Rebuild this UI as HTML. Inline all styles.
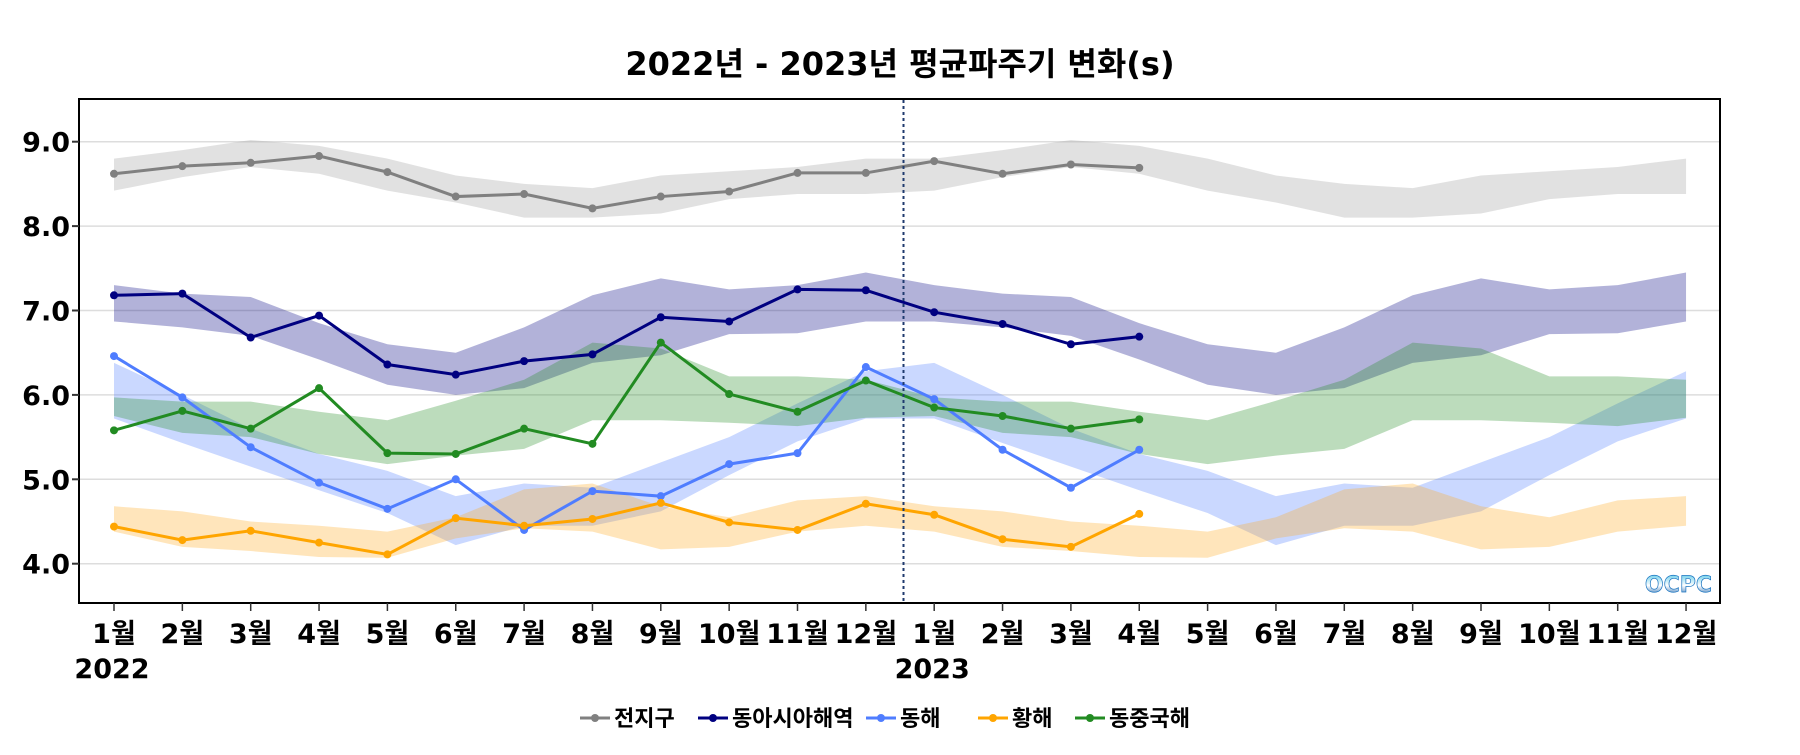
<!DOCTYPE html>
<html><head><meta charset="utf-8">
<style>
body{margin:0;background:#fff;}
svg text{font-family:"DejaVu Sans","Noto Sans CJK KR",sans-serif;}
</style></head>
<body>
<svg id="chart" width="1800" height="750" xmlns="http://www.w3.org/2000/svg">
<text x="900" y="75" text-anchor="middle" font-size="32" font-weight="bold">2022년 - 2023년 평균파주기 변화(s)</text>
<g id="grid"></g>
<g id="bands"></g>
<g id="lines"></g>
<line x1="903.5" y1="100" x2="903.5" y2="603" stroke="#1f3a6e" stroke-width="2" stroke-dasharray="3,3"/>
<rect x="79" y="99" width="1641" height="504" fill="none" stroke="#000" stroke-width="2"/>
<g id="axes"></g>
<g>
<defs><linearGradient id="lg" x1="0" y1="0" x2="0" y2="1"><stop offset="0" stop-color="#5bc8e8"/><stop offset="0.5" stop-color="#ffffff"/><stop offset="1" stop-color="#0a5aa8"/></linearGradient></defs>
<text x="1712" y="592" text-anchor="end" font-size="22" font-weight="bold" fill="url(#lg)" stroke="#1a74c0" stroke-width="0.7">OCPC</text>
</g>
<g id="legend"></g>
</svg>
<script>
const months=["1월","2월","3월","4월","5월","6월","7월","8월","9월","10월","11월","12월"];
const yTicks=[4.0,5.0,6.0,7.0,8.0,9.0];
const seriesNames=["전지구","동아시아해역","동해","황해","동중국해"];
const seriesColors=["#808080","#000080","#4f7dff","#ffa500","#228b22"];
const bandColors=["rgba(170,170,170,0.35)","rgba(0,0,128,0.3)","rgba(80,125,255,0.3)","rgba(255,170,30,0.3)","rgba(34,139,34,0.3)"];
const globalVals=[8.62,8.71,8.75,8.83,8.64,8.35,8.38,8.21,8.35,8.41,8.63,8.63,8.77,8.62,8.73,8.69];
const eastAsiaVals=[7.18,7.2,6.68,6.94,6.36,6.24,6.4,6.48,6.92,6.87,7.25,7.24,6.98,6.84,6.6,6.69];
const eastSeaVals=[6.46,5.97,5.38,4.96,4.65,5.0,4.4,4.86,4.8,5.18,5.31,6.33,5.95,5.35,4.9,5.35];
const yellowSeaVals=[4.44,4.28,4.39,4.25,4.11,4.54,4.45,4.53,4.72,4.49,4.4,4.71,4.58,4.29,4.2,4.59];
const ecsVals=[5.58,5.81,5.6,6.08,5.31,5.3,5.6,5.42,6.62,6.01,5.8,6.17,5.85,5.75,5.6,5.71];
const globalUpper=[8.8,8.9,9.02,8.95,8.8,8.6,8.5,8.45,8.6,8.65,8.7,8.8];
const globalLower=[8.42,8.58,8.7,8.62,8.42,8.28,8.1,8.1,8.15,8.32,8.38,8.38];
const eastAsiaUpper=[7.3,7.2,7.16,6.85,6.6,6.5,6.8,7.18,7.38,7.25,7.3,7.45];
const eastAsiaLower=[6.87,6.8,6.7,6.42,6.12,6.0,6.08,6.38,6.47,6.72,6.73,6.87];
const eastSeaUpper=[6.38,6.0,5.6,5.3,5.1,4.8,4.95,4.9,5.2,5.5,5.9,6.28];
const eastSeaLower=[5.72,5.43,5.15,4.87,4.6,4.22,4.45,4.45,4.62,5.05,5.45,5.72];
const yellowSeaUpper=[4.68,4.62,4.5,4.45,4.38,4.55,4.88,4.95,4.68,4.55,4.75,4.8];
const yellowSeaLower=[4.38,4.2,4.15,4.08,4.07,4.3,4.42,4.38,4.17,4.2,4.38,4.45];
const ecsUpper=[5.97,5.92,5.92,5.8,5.7,5.93,6.18,6.62,6.55,6.22,6.22,6.18];
const ecsLower=[5.75,5.55,5.5,5.3,5.18,5.28,5.36,5.7,5.7,5.67,5.63,5.73];

const NS="http://www.w3.org/2000/svg";
function xS(i){return 114+i*68.35;}
function yS(v){return 141.7+(9-v)*84.4;}
function mk(t,a,p){const e=document.createElementNS(NS,t);for(const k in a)e.setAttribute(k,a[k]);p.appendChild(e);return e;}
const grid=document.getElementById('grid'),axes=document.getElementById('axes'),bands=document.getElementById('bands'),lines=document.getElementById('lines'),legend=document.getElementById('legend');
yTicks.forEach(v=>{
  const g=mk('line',{x1:80,x2:1719,y1:yS(v),y2:yS(v),stroke:'#dddddd','stroke-width':1.5},grid);
  
  
  const tk=mk('line',{x1:72,x2:79,y1:yS(v),y2:yS(v),stroke:'#333','stroke-width':2},axes);
  
  
  const t=mk('text',{x:70,y:yS(v)+10,'text-anchor':'end','font-size':27,'font-weight':'bold'},axes);
  t.textContent=v.toFixed(1);
  
  
});
for(let i=0;i<24;i++){
  const tk=mk('line',{x1:xS(i),x2:xS(i),y1:603,y2:611,stroke:'#333','stroke-width':1.5},axes);
  
  
  const t=mk('text',{x:xS(i),y:643,'text-anchor':'middle','font-size':27,'font-weight':'bold'},axes);
  t.textContent=months[i%12];
  
  
}
[["2022",0],["2023",12]].forEach(([y,i])=>{
  const t=mk('text',{x:xS(i)-2,y:678,'text-anchor':'middle','font-size':27,'font-weight':'bold'},axes);
  t.textContent=y;
  
  
});
const uppers=[globalUpper,eastAsiaUpper,eastSeaUpper,yellowSeaUpper,ecsUpper];
const lowers=[globalLower,eastAsiaLower,eastSeaLower,yellowSeaLower,ecsLower];
const vals=[globalVals,eastAsiaVals,eastSeaVals,yellowSeaVals,ecsVals];
const keys=['global','east-asia','east-sea','yellow-sea','east-china-sea'];
for(let s=0;s<5;s++){
  const up=[],lo=[];
  for(let i=0;i<24;i++){up.push(xS(i)+','+yS(uppers[s][i%12]));lo.push(xS(i)+','+yS(lowers[s][i%12]));}
  const b=mk('polygon',{points:up.concat(lo.reverse()).join(' '),fill:bandColors[s]},bands);
  
  
}
for(let s=0;s<5;s++){
  const pts=vals[s].map((v,i)=>xS(i)+','+yS(v)).join(' ');
  const l=mk('polyline',{points:pts,fill:'none',stroke:seriesColors[s],'stroke-width':3},lines);
  
  
  vals[s].forEach((v,i)=>{
    const c=mk('circle',{cx:xS(i),cy:yS(v),r:4,fill:seriesColors[s]},lines);
    
    
  });
}
const legX=[580,698,866,978,1075];
for(let s=0;s<5;s++){
  const g=mk('g',{},legend);
  
  
  mk('line',{x1:legX[s],x2:legX[s]+30,y1:718,y2:718,stroke:seriesColors[s],'stroke-width':3},g);
  mk('circle',{cx:legX[s]+15,cy:718,r:4,fill:seriesColors[s]},g);
  const t=mk('text',{x:legX[s]+34,y:726,'font-size':22,'font-weight':'bold'},g);
  t.textContent=seriesNames[s];
}
</script>
</body></html>
